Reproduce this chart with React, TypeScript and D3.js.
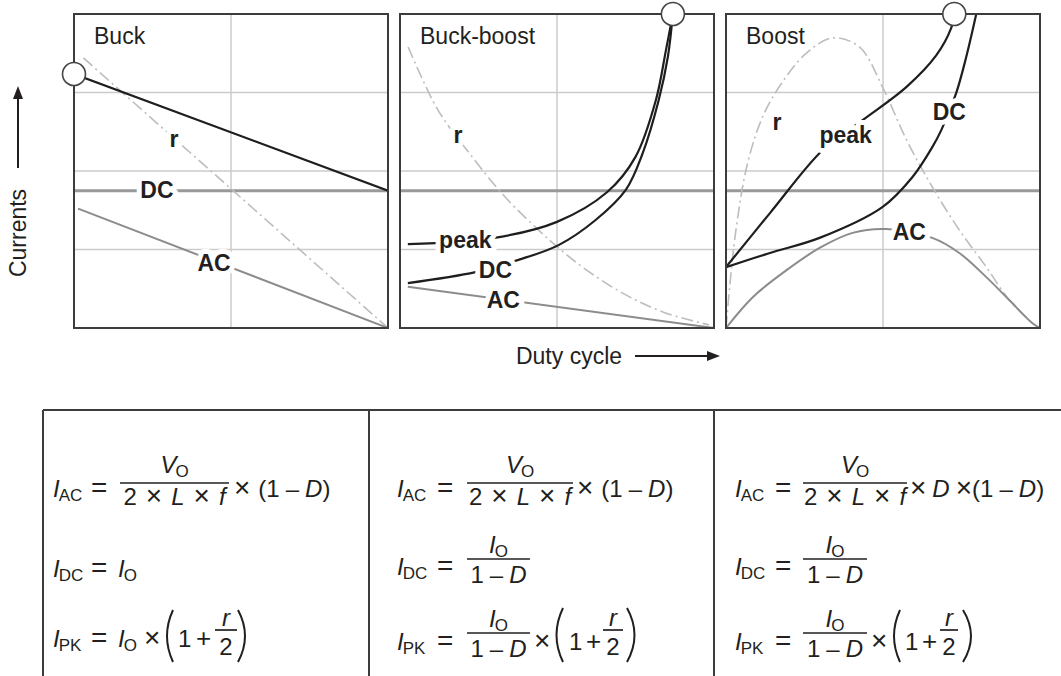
import React from 'react';
import * as d3 from 'd3';

type Pt = [number, number];
type Label = { text: string; d: number; v: number };

// Panel titles and reference levels (duty cycle D on x, normalised current on y)
const PANEL_TITLES = ['Buck', 'Buck-boost', 'Boost'];
const IO_LEVEL = 0.437;
const GRID_LEVELS = [0.25, 0.5, 0.75];
const GRID_DUTY = [0.5];

// Buck
const buckPeak: Pt[] = [[0, 0.809], [1, 0.437]];
const buckAC: Pt[] = [[0.013, 0.38], [1, 0]];
const buckR: Pt[] = [[0.03, 0.86], [1, 0]];
const buckKnee: Pt = [0, 0.809];
const buckLabels: Label[] = [
  { text: 'r', d: 0.318, v: 0.576 },
  { text: 'DC', d: 0.264, v: 0.414 },
  { text: 'AC', d: 0.446, v: 0.182 },
];

// Buck-boost
const bbPeak: Pt[] = [[0.025, 0.267], [0.3, 0.287], [0.5, 0.338], [0.66, 0.433], [0.75, 0.545], [0.815, 0.726], [0.847, 0.885], [0.869, 1.0]];
const bbDC: Pt[] = [[0.025, 0.143], [0.24, 0.178], [0.377, 0.217], [0.505, 0.264], [0.623, 0.344], [0.719, 0.44], [0.773, 0.557], [0.824, 0.726], [0.853, 0.863], [0.869, 1.0]];
const bbAC: Pt[] = [[0.025, 0.131], [1, 0]];
const bbR: Pt[] = [[0.026, 0.895], [0.121, 0.694], [0.23, 0.545], [0.335, 0.417], [0.441, 0.312], [0.505, 0.255], [0.581, 0.194], [0.709, 0.111], [0.837, 0.051], [0.984, 0.01]];
const bbKnee: Pt = [0.869, 1.0];
const bbLabels: Label[] = [
  { text: 'r', d: 0.185, v: 0.589 },
  { text: 'peak', d: 0.208, v: 0.255 },
  { text: 'DC', d: 0.304, v: 0.159 },
  { text: 'AC', d: 0.329, v: 0.064 },
];

// Boost
const boostPeak: Pt[] = [[0, 0.194], [0.14, 0.366], [0.308, 0.567], [0.435, 0.662], [0.575, 0.768], [0.67, 0.869], [0.717, 0.955], [0.727, 1.0]];
const boostDC: Pt[] = [[0, 0.194], [0.14, 0.239], [0.298, 0.287], [0.498, 0.385], [0.594, 0.481], [0.657, 0.576], [0.686, 0.631], [0.733, 0.748], [0.765, 0.863], [0.797, 1.0]];
const boostAC: Pt[] = [[0, 0], [0.086, 0.099], [0.194, 0.185], [0.298, 0.255], [0.403, 0.303], [0.511, 0.315], [0.657, 0.287], [0.743, 0.239], [0.829, 0.162], [0.902, 0.089], [0.975, 0.016], [1, 0]];
const boostR: Pt[] = [[0, 0], [0.03, 0.3], [0.07, 0.53], [0.12, 0.68], [0.181, 0.785], [0.257, 0.876], [0.34, 0.924], [0.425, 0.895], [0.498, 0.768], [0.575, 0.599], [0.657, 0.449], [0.743, 0.312], [0.829, 0.194], [0.902, 0.089], [0.975, 0.016]];
const boostKnee: Pt = [0.727, 1.0];
const boostLabels: Label[] = [
  { text: 'r', d: 0.162, v: 0.631 },
  { text: 'peak', d: 0.381, v: 0.589 },
  { text: 'DC', d: 0.711, v: 0.662 },
  { text: 'AC', d: 0.584, v: 0.28 },
];

const panels = [
  { title: PANEL_TITLES[0], peak: buckPeak, dc: null as Pt[] | null, ac: buckAC, r: buckR, knee: buckKnee, labels: buckLabels },
  { title: PANEL_TITLES[1], peak: bbPeak, dc: bbDC, ac: bbAC, r: bbR, knee: bbKnee, labels: bbLabels },
  { title: PANEL_TITLES[2], peak: boostPeak, dc: boostDC, ac: boostAC, r: boostR, knee: boostKnee, labels: boostLabels },
];

const W = 1061;
const H = 676;
const PANEL_LEFT = [74, 400, 726];
const PANEL_W = 314;
const PANEL_TOP = 14;
const PANEL_BOTTOM = 328;

const FONT = '"Liberation Sans", Arial, Helvetica, sans-serif';
const INK = '#231f20';
const FS = 24;
const SFS = 17;
const TIMES = '\u00d7';

type Tok = { s: string; it?: boolean; sub?: boolean; gap?: number; fs?: number };

function Seq({ x, y, toks, anchor = 'start' }: { x: number; y: number; toks: Tok[]; anchor?: string }) {
  let shifted = false;
  return (
    <text x={x} y={y} textAnchor={anchor} fontSize={FS} fill={INK} fontFamily={FONT}>
      {toks.map((t, k) => {
        let dy = 0;
        if (t.sub && !shifted) { dy = 4; shifted = true; }
        else if (!t.sub && shifted) { dy = -4; shifted = false; }
        const size = t.fs || (t.sub ? SFS : FS);
        return (
          <tspan key={k} dx={t.gap || 0} dy={dy} fontStyle={t.it ? 'italic' : 'normal'} fontSize={size}>
            {t.s}
          </tspan>
        );
      })}
    </text>
  );
}

const sym = (s: string, sub: string): Tok[] => [{ s, it: true }, { s: sub, sub: true, gap: -1 }];
const times = (gap = 0): Tok => ({ s: TIMES, fs: 28, gap });
const eq: Tok[] = [{ s: '=', fs: 28 }];

function Frac({ x1, x2, bar, num, den, numY, denY }: { x1: number; x2: number; bar: number; num: Tok[]; den: Tok[]; numY: number; denY: number }) {
  const cx = (x1 + x2) / 2;
  return (
    <g>
      <Seq x={cx} y={numY} toks={num} anchor="middle" />
      <line x1={x1} x2={x2} y1={bar} y2={bar} stroke={INK} strokeWidth={1.7} />
      <Seq x={cx} y={denY} toks={den} anchor="middle" />
    </g>
  );
}

function Paren({ x1, x2, top, bottom, open }: { x1: number; x2: number; top: number; bottom: number; open: boolean }) {
  const mid = (top + bottom) / 2;
  const d = open
    ? `M${x2},${top} Q${x1 - 2},${mid} ${x2},${bottom}`
    : `M${x1},${top} Q${x2 + 2},${mid} ${x1},${bottom}`;
  return <path d={d} fill="none" stroke={INK} strokeWidth={2} />;
}

const oneMinusD: Tok[] = [{ s: '1' }, { s: '\u2013', gap: 6 }, { s: 'D', it: true, gap: 6 }];
const denLC: Tok[] = [{ s: '2' }, times(9), { s: 'L', it: true, gap: 9 }, times(9), { s: 'f', it: true, gap: 9 }];

function Panel({ p, i }: { p: typeof panels[number]; i: number }) {
  const left = PANEL_LEFT[i];
  const x = d3.scaleLinear().domain([0, 1]).range([left, left + PANEL_W]);
  const y = d3.scaleLinear().domain([0, 1]).range([PANEL_BOTTOM, PANEL_TOP]);
  const line = d3.line<Pt>().x((d) => x(d[0])).y((d) => y(d[1])).curve(d3.curveCatmullRom.alpha(0.5));
  const clipId = `clip-${i}`;
  return (
    <g>
      <defs>
        <clipPath id={clipId}>
          <rect x={left} y={PANEL_TOP} width={PANEL_W} height={PANEL_BOTTOM - PANEL_TOP} />
        </clipPath>
      </defs>
      <g clipPath={`url(#${clipId})`}>
        {GRID_LEVELS.map((g) => (
          <line key={`h${g}`} x1={x(0)} x2={x(1)} y1={y(g)} y2={y(g)} stroke="#cbcbcb" strokeWidth={1.5} />
        ))}
        {GRID_DUTY.map((g) => (
          <line key={`v${g}`} x1={x(g)} x2={x(g)} y1={y(0)} y2={y(1)} stroke="#cbcbcb" strokeWidth={1.5} />
        ))}
        <line x1={x(0)} x2={x(1)} y1={y(IO_LEVEL)} y2={y(IO_LEVEL)} stroke="#999" strokeWidth={3} />
        <path d={line(p.r) || ''} fill="none" stroke="#bdbdbd" strokeWidth={1.6} strokeDasharray="12 4 2 4" />
        <path d={line(p.ac) || ''} fill="none" stroke="#8c8c8c" strokeWidth={2} />
        {p.dc && <path d={line(p.dc) || ''} fill="none" stroke="#1e1e1e" strokeWidth={2.2} />}
        <path d={line(p.peak) || ''} fill="none" stroke="#1e1e1e" strokeWidth={2.2} />
        {p.labels.map((l) => (
          <text key={l.text} x={x(l.d)} y={y(l.v)} textAnchor="middle" fontSize={23} fontWeight="bold"
            fill={INK} stroke="#fff" strokeWidth={10} strokeLinejoin="round" paintOrder="stroke" fontFamily={FONT}>
            {l.text}
          </text>
        ))}
        <text x={left + 20} y={PANEL_TOP + 30} fontSize={23} fill={INK} fontFamily={FONT}>{p.title}</text>
      </g>
      <rect x={left} y={PANEL_TOP} width={PANEL_W} height={PANEL_BOTTOM - PANEL_TOP} fill="none" stroke="#3c3c3c" strokeWidth={2} />
      <circle cx={x(p.knee[0])} cy={y(p.knee[1])} r={11.5} fill="#fff" stroke="#444" strokeWidth={1.6} />
    </g>
  );
}

export default function App() {
  return (
    <svg width={W} height={H} viewBox={`0 0 ${W} ${H}`} style={{ position: 'absolute', left: 0, top: 0, display: 'block', background: '#fff' }}
      fontFamily={FONT}>
      <rect width={W} height={H} fill="#fff" />
      {panels.map((p, i) => <Panel key={p.title} p={p} i={i} />)}

      {/* axis captions */}
      <line x1={18} x2={18} y1={168} y2={96} stroke={INK} strokeWidth={2} />
      <path d="M18,86 L13,99 L23,99 Z" fill={INK} />
      <text transform="translate(26,233) rotate(-90)" textAnchor="middle" fontSize={23} fill={INK}>Currents</text>
      <text x={569} y={364} textAnchor="middle" fontSize={23} fill={INK}>Duty cycle</text>
      <line x1={635} x2={708} y1={356} y2={356} stroke={INK} strokeWidth={2} />
      <path d="M720,356 L707,351 L707,361 Z" fill={INK} />

      {/* formula table */}
      <g stroke="#3c3c3c" strokeWidth={2}>
        <line x1={43} x2={W} y1={410} y2={410} />
        <line x1={43} x2={43} y1={410} y2={H} />
        <line x1={369} x2={369} y1={410} y2={H} />
        <line x1={714} x2={714} y1={410} y2={H} />
      </g>

      {/* Buck */}
      <Seq x={53} y={497} toks={sym('I', 'AC')} />
      <Seq x={91} y={497} toks={eq} />
      <Frac x1={120} x2={229} bar={483} num={sym('V', 'O')} den={denLC} numY={473} denY={505} />
      <Seq x={234} y={497} toks={[times(), { s: '(', gap: 8 }, ...oneMinusD, { s: ')' }]} />
      <Seq x={53} y={577} toks={sym('I', 'DC')} />
      <Seq x={91} y={577} toks={eq} />
      <Seq x={118} y={577} toks={sym('I', 'O')} />
      <Seq x={53} y={647} toks={sym('I', 'PK')} />
      <Seq x={91} y={647} toks={eq} />
      <Seq x={118} y={647} toks={sym('I', 'O')} />
      <Seq x={144} y={647} toks={[times()]} />
      <Paren x1={163} x2={173} top={610} bottom={662} open />
      <Seq x={178} y={647} toks={[{ s: '1' }]} />
      <Seq x={196} y={647} toks={[{ s: '+', fs: 26 }]} />
      <Frac x1={215} x2={237} bar={630} num={[{ s: 'r', it: true }]} den={[{ s: '2' }]} numY={626} denY={655} />
      <Paren x1={238} x2={250} top={610} bottom={662} open={false} />

      {/* Buck-boost */}
      <Seq x={397} y={497} toks={sym('I', 'AC')} />
      <Seq x={437} y={497} toks={eq} />
      <Frac x1={467} x2={573} bar={483} num={sym('V', 'O')} den={denLC} numY={473} denY={505} />
      <Seq x={577} y={497} toks={[times(), { s: '(', gap: 8 }, ...oneMinusD, { s: ')' }]} />
      <Seq x={397} y={575} toks={sym('I', 'DC')} />
      <Seq x={437} y={575} toks={eq} />
      <Frac x1={467} x2={530} bar={559} num={sym('I', 'O')} den={oneMinusD} numY={553} denY={583} />
      <Seq x={397} y={650} toks={sym('I', 'PK')} />
      <Seq x={437} y={650} toks={eq} />
      <Frac x1={467} x2={530} bar={633} num={sym('I', 'O')} den={oneMinusD} numY={627} denY={657} />
      <Seq x={534} y={650} toks={[times()]} />
      <Paren x1={552} x2={563} top={608} bottom={662} open />
      <Seq x={569} y={650} toks={[{ s: '1' }]} />
      <Seq x={586} y={650} toks={[{ s: '+', fs: 26 }]} />
      <Frac x1={603} x2={623} bar={630} num={[{ s: 'r', it: true }]} den={[{ s: '2' }]} numY={626} denY={655} />
      <Paren x1={627} x2={640} top={608} bottom={662} open={false} />

      {/* Boost */}
      <Seq x={735} y={497} toks={sym('I', 'AC')} />
      <Seq x={775} y={497} toks={eq} />
      <Frac x1={803} x2={907} bar={483} num={sym('V', 'O')} den={denLC} numY={473} denY={505} />
      <Seq x={910} y={497} toks={[times(), { s: 'D', it: true, gap: 6 }, times(6), { s: '(' }, ...oneMinusD, { s: ')' }]} />
      <Seq x={735} y={575} toks={sym('I', 'DC')} />
      <Seq x={775} y={575} toks={eq} />
      <Frac x1={803} x2={867} bar={559} num={sym('I', 'O')} den={oneMinusD} numY={553} denY={583} />
      <Seq x={735} y={650} toks={sym('I', 'PK')} />
      <Seq x={775} y={650} toks={eq} />
      <Frac x1={803} x2={867} bar={633} num={sym('I', 'O')} den={oneMinusD} numY={627} denY={657} />
      <Seq x={871} y={650} toks={[times()]} />
      <Paren x1={890} x2={900} top={610} bottom={662} open />
      <Seq x={905} y={650} toks={[{ s: '1' }]} />
      <Seq x={922} y={650} toks={[{ s: '+', fs: 26 }]} />
      <Frac x1={940} x2={958} bar={630} num={[{ s: 'r', it: true }]} den={[{ s: '2' }]} numY={626} denY={655} />
      <Paren x1={963} x2={977} top={610} bottom={662} open={false} />
    </svg>
  );
}
